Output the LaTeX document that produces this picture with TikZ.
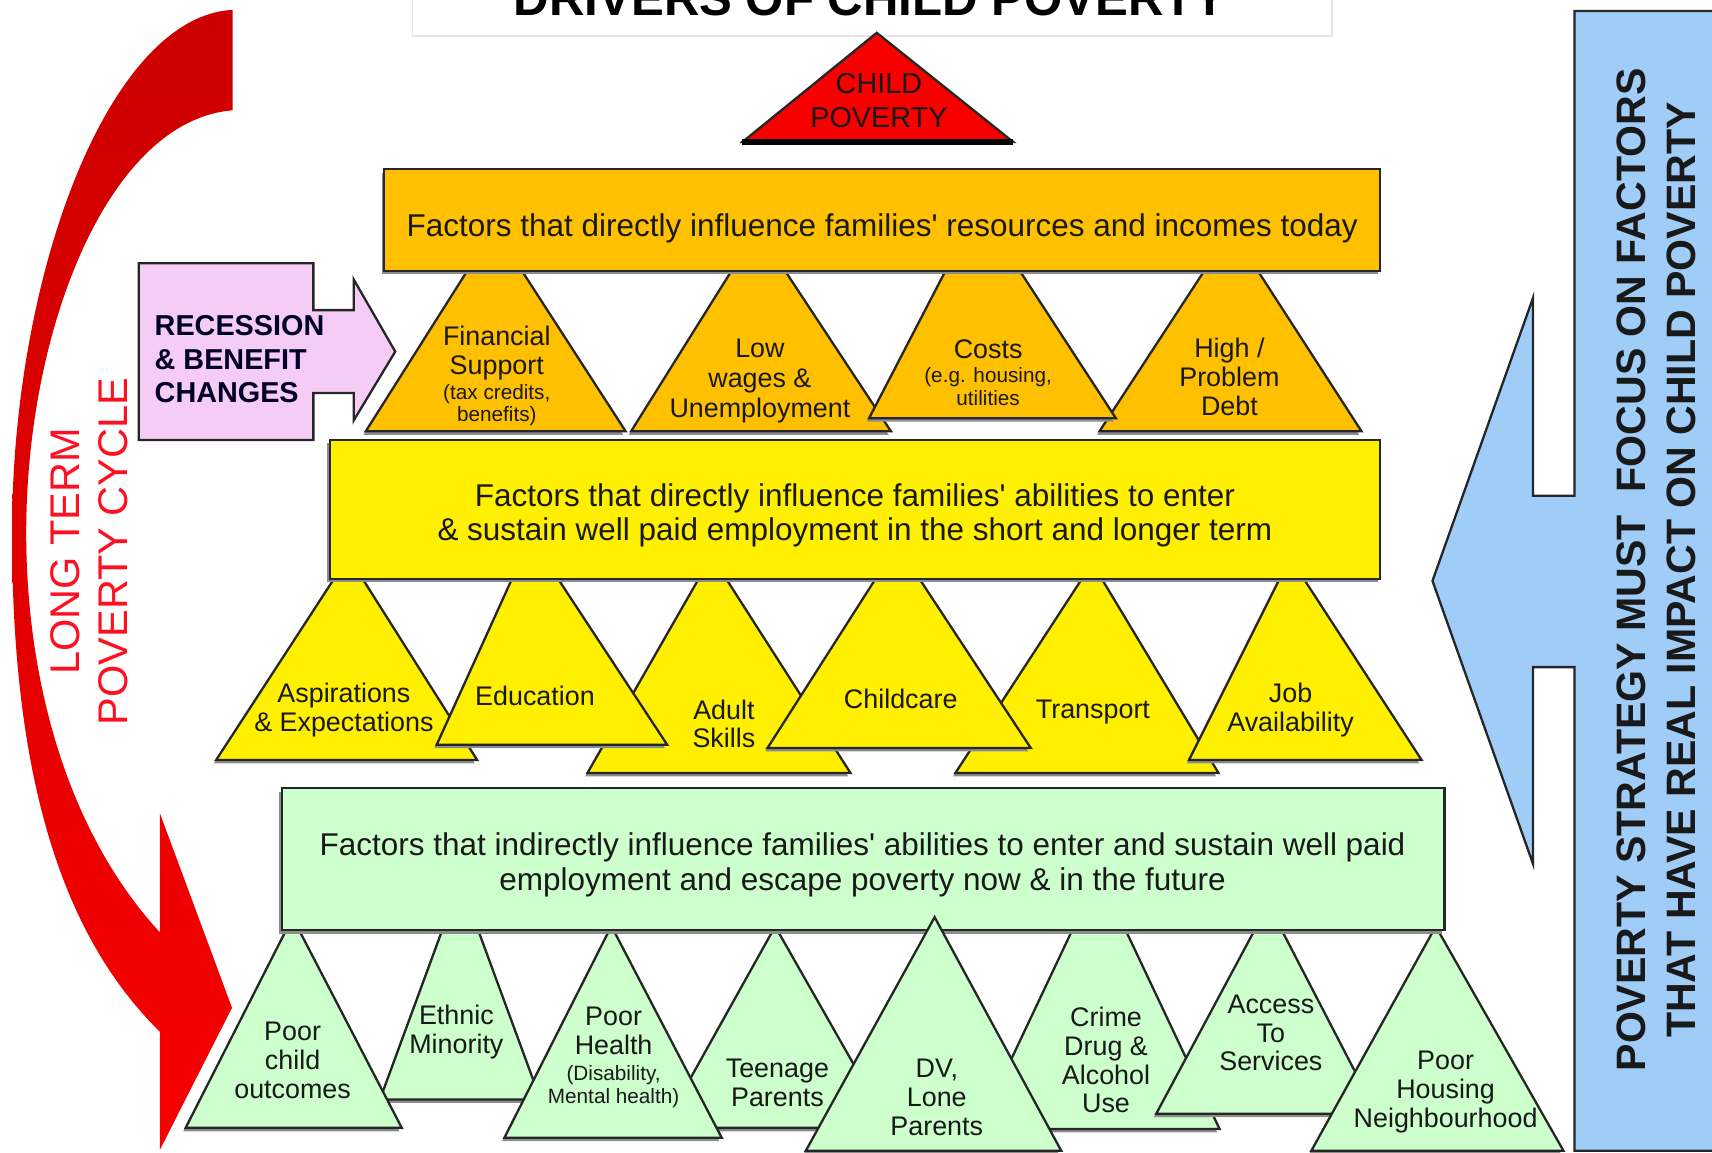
\documentclass[tikz,border=0pt]{standalone}
\usepackage{fontspec}
\setmainfont{Liberation Sans}
\usetikzlibrary{shadows}

\definecolor{gold}{HTML}{FFC000}
\definecolor{lemon}{HTML}{FFF000}
\definecolor{mint}{HTML}{CCFFCC}
\definecolor{lilac}{HTML}{F5CCF5}
\definecolor{sky}{HTML}{A0CCF8}
\definecolor{darkred}{HTML}{CC0000}
\definecolor{brightred}{HTML}{F80000}
\definecolor{cyclered}{HTML}{FF1020}

\tikzset{
  outline/.style={draw=black!85, line width=0.6pt, line join=miter},
  factor/.style={outline, drop shadow={shadow xshift=-0.6pt, shadow yshift=-0.9pt, fill=black!45, opacity=1}},
  lbl/.style={font=\fontsize{7}{7.5}\selectfont, align=center, inner sep=0pt, text=black!90},
  note/.style={font=\fontsize{5.4}{5.9}\selectfont, align=center, inner sep=0pt, text=black!90},
  boxtxt/.style={font=\fontsize{8.2}{9}\selectfont, align=center, inner sep=0pt, text=black!90}
}

\begin{document}
\begin{tikzpicture}[x=0.01cm, y=-0.01cm]
\useasboundingbox (0,0) rectangle (1568,1056);
\clip (0,0) rectangle (1568,1056);

% title
\draw[black!10] (378,-5) rectangle (1220,33);
\node[anchor=base, inner sep=0pt, font=\bfseries\fontsize{12.8}{14}\selectfont] (title) at (797,14) {DRIVERS OF CHILD POVERTY};

% long term cycle arrow
\shade[top color=darkred, middle color=darkred!60!brightred, bottom color=brightred]
  (213,9) .. controls (100,15) and (11,250) .. (11,488)
  .. controls (11,720) and (60,860) .. (146.5,945)
  -- (146.5,1053) -- (212.5,923) -- (146.5,745) -- (146.5,854)
  .. controls (60,760) and (24,620) .. (24,488)
  .. controls (24,300) and (100,110) .. (213,101)
  -- cycle;
\node[rotate=90, align=center, inner sep=0pt, text=cyclered, font=\fontsize{10.8}{12.5}\selectfont] (cycle) at (82,505) {LONG TERM\\POVERTY CYCLE};

% child poverty
\filldraw[fill=brightred, outline] (803,30) -- (928,130) -- (680,130) -- cycle;
\draw[line width=1.6pt] (680,130) -- (928,130);
\node[lbl, font=\fontsize{7.5}{8.8}\selectfont] (childpov) at (805,92) {CHILD\\POVERTY};

% resources and incomes
\filldraw[fill=gold, factor] (428,248) -- (335,395) -- (573,395) -- (478,248) -- cycle;
\filldraw[fill=gold, factor] (670,248) -- (578,395) -- (816,395) -- (719,248) -- cycle;
\filldraw[fill=gold, factor] (1103,248) -- (1007,395) -- (1247,395) -- (1152,248) -- cycle;
\filldraw[fill=gold, factor] (866,248) -- (796,383) -- (1022,383) -- (934,248) -- cycle;
\filldraw[fill=gold, factor] (352,155) rectangle (1264,248);
\node[boxtxt] (incomes) at (808,209) {Factors that directly influence families\textquotesingle{} resources and incomes today};
\node[lbl] (finance) at (455,323) {Financial\\Support};
\node[note] (finance-note) at (455,371) {(tax credits,\\benefits)};
\node[lbl, font=\fontsize{7}{7.7}\selectfont] (wages) at (696,349) {Low\\wages \&\\Unemployment};
\node[lbl] (costs) at (905,320) {Costs};
\node[note] (costs-note) at (905,354) {(e.g. housing,\\utilities};
\node[lbl] (debt) at (1126,345) {High /\\Problem\\Debt};

% recession
\filldraw[fill=lilac, outline] (127,241) -- (287,241) -- (287,284) -- (324,284) -- (324,256) -- (362,322)
  -- (324,385) -- (324,360) -- (287,360) -- (287,403) -- (127,403) -- cycle;
\node[anchor=west, align=left, inner sep=0pt, text=black!85!blue, font=\bfseries\fontsize{7.5}{8.8}\selectfont] (recession) at (141,329) {RECESSION\\\& BENEFIT\\CHANGES};

% employment factors
\filldraw[fill=lemon, factor] (640,530) -- (538,708) -- (779,708) -- (665,530) -- cycle;
\filldraw[fill=lemon, factor] (991,530) -- (875,708) -- (1116,708) -- (1009,530) -- cycle;
\filldraw[fill=lemon, factor] (306,530) -- (198,696) -- (437,696) -- (332,530) -- cycle;
\filldraw[fill=lemon, factor] (469,530) -- (400,682) -- (611,682) -- (511,530) -- cycle;
\filldraw[fill=lemon, factor] (802,530) -- (703,685) -- (944,685) -- (842,530) -- cycle;
\filldraw[fill=lemon, factor] (1172,530) -- (1089,696) -- (1302,696) -- (1194,530) -- cycle;
\filldraw[fill=lemon, factor] (302,403) rectangle (1264,530);
\node[boxtxt] (employment) at (783,472) {Factors that directly influence families\textquotesingle{} abilities to enter\\\& sustain well paid employment in the short and longer term};
\node[lbl] (aspire) at (315,650) {Aspirations\\\& Expectations};
\node[lbl] (educ) at (490,637) {Education};
\node[lbl] (adult) at (663,663) {Adult\\Skills};
\node[lbl] (childcare) at (825,640) {Childcare};
\node[lbl] (transport) at (1001,652) {Transport};
\node[lbl] (jobs) at (1182,650) {Job\\Availability};

% indirect factors
\filldraw[fill=mint, factor] (405,852) -- (348,1007) -- (495,1007) -- (438,852) -- cycle;
\filldraw[fill=mint, factor] (708,852) -- (607,1033) -- (815,1033) -- (712,852) -- cycle;
\filldraw[fill=mint, factor] (982,852) -- (896,1034) -- (1117,1034) -- (1031,852) -- cycle;
\filldraw[fill=mint, factor] (1149,852) -- (1059,1020) -- (1261,1020) -- (1174,852) -- cycle;
\filldraw[fill=mint, factor] (262,852) -- (170,1033) -- (368,1033) -- (274,852) -- cycle;
\filldraw[fill=mint, factor] (558,852) -- (462,1042) -- (661,1042) -- (562,852) -- cycle;
\filldraw[fill=mint, factor] (1313,852) -- (1201,1054) -- (1432,1054) -- (1317,852) -- cycle;
\filldraw[fill=mint, factor] (258,722) rectangle (1323,852);
\filldraw[fill=mint, factor] (856,840) -- (738,1054) -- (972,1054) -- cycle;
\node[boxtxt] (future) at (790,792) {Factors that indirectly influence families\textquotesingle{} abilities to enter and sustain well paid\\employment and escape poverty now \& in the future};
\node[lbl] (outcomes) at (268,971) {Poor\\child\\outcomes};
\node[lbl] (ethnic) at (418,945) {Ethnic\\Minority};
\node[lbl] (health) at (562,944) {Poor\\Health};
\node[note] (health-note) at (562,995) {(Disability,\\Mental health)};
\node[lbl] (teen) at (712,992) {Teenage\\Parents};
\node[lbl] (lone) at (858,1005) {DV,\\Lone\\Parents};
\node[lbl] (crime) at (1013,971) {Crime\\Drug \&\\Alcohol\\Use};
\node[lbl] (access) at (1164,946) {Access\\To\\Services};
\node[lbl] (housing) at (1324,1000) {Poor\\Housing\\Neighbourhood};

% strategy arrow
\filldraw[fill=sky, outline] (1442,10) -- (1580,10) -- (1580,1054) -- (1442,1054) -- (1442,611) -- (1404,611)
  -- (1404,791) -- (1312,532) -- (1404,273) -- (1404,454) -- (1442,454) -- cycle;
\node[rotate=90, align=center, inner sep=0pt, text=black!90, font=\bfseries\fontsize{10.7}{13}\selectfont] (strategy) at (1517,522) {POVERTY STRATEGY MUST\ \ FOCUS ON FACTORS\\THAT HAVE REAL IMPACT ON CHILD POVERTY};
\end{tikzpicture}
\end{document}
